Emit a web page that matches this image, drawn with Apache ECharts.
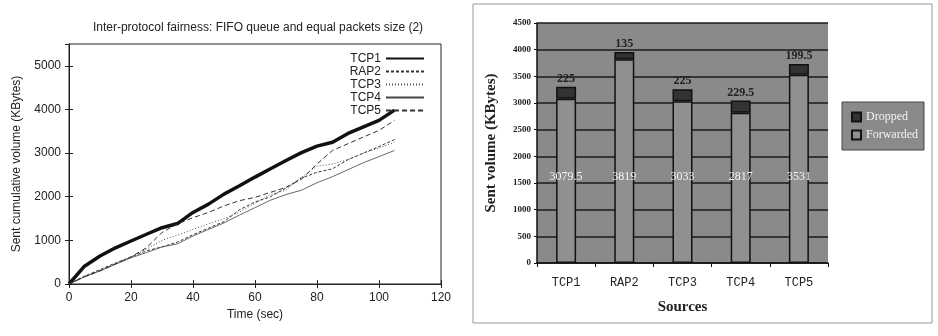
<!DOCTYPE html>
<html>
<head>
<meta charset="utf-8">
<script src="https://cdn.jsdelivr.net/npm/echarts@6/dist/echarts.min.js"></script>
<style>
	html,body{margin:0;padding:0;background:#fff;}
	#chart1{width:938px;height:336px;}
</style>
</head>
<body>
<div id="chart1"></div>
<script>
// left chart: cumulative volume over time
var times=[0,5,10,15,20,25,30,35,40,45,50,55,60,65,70,75,80,85,90,95,100,105];
var tcp1=[0,408,640,830,985,1140,1290,1385,1640,1830,2060,2250,2450,2640,2830,3010,3160,3250,3450,3600,3750,3985];
var rap2=[0,180,330,480,620,760,850,960,1130,1280,1430,1700,1880,2000,2200,2430,2560,2640,2850,3000,3150,3310];
var tcp3=[0,170,320,470,620,800,1000,1120,1250,1380,1500,1650,1850,2050,2150,2450,2700,2750,2850,3000,3120,3250];
var tcp4=[0,160,300,450,600,720,850,920,1100,1250,1400,1580,1750,1920,2050,2150,2320,2460,2620,2780,2920,3060];
var tcp5=[0,170,300,460,620,830,1180,1380,1520,1640,1790,1910,1985,2100,2215,2400,2750,3060,3215,3370,3520,3750];

// right chart: sent volume per source
var sources=['TCP1','RAP2','TCP3','TCP4','TCP5'];
var forwarded=[3079.5,3819,3033,2817,3531];
var dropped=[225,135,225,229.5,199.5];

drawChart();

function pairs(vals){
	var out=[];
	for(var i=0;i<times.length;i++){
		out.push([times[i],vals[i]]);
	}
	return out;
}

function lineSerie(name,vals,color,width,type){
	return {
		name:name,
		type:'line',
		xAxisIndex:0,
		yAxisIndex:0,
		data:pairs(vals),
		symbol:'none',
		showSymbol:false,
		animation:false,
		itemStyle:{color:color},
		lineStyle:{color:color,width:width,type:type}
	};
}

function plain(v){
	return String(v);
}

function drawChart(){
	var myChart=echarts.init(document.getElementById('chart1'));
	var sans='Liberation Sans';
	var serif='Liberation Serif';
	var noDot={opacity:0};
	var option={
		animation:false,
		title:{
			text:'Inter-protocol fairness: FIFO queue and equal packets size (2)',
			left:253,
			top:17,
			textAlign:'center',
			textStyle:{fontFamily:sans,fontSize:12,fontWeight:'normal',color:'#222'}
		},
		legend:[
			{
				data:[
					{name:'TCP1',itemStyle:noDot},
					{name:'RAP2',itemStyle:noDot},
					{name:'TCP3',itemStyle:noDot},
					{name:'TCP4',itemStyle:noDot},
					{name:'TCP5',itemStyle:noDot}
				],
				orient:'vertical',
				right:508,
				top:47,
				align:'right',
				itemGap:0,
				itemWidth:38,
				itemHeight:9,
				textStyle:{fontFamily:sans,fontSize:12,color:'#222',lineHeight:13}
			},
			{
				data:['Dropped','Forwarded'],
				orient:'vertical',
				left:842,
				top:102,
				icon:'rect',
				itemWidth:9,
				itemHeight:9,
				itemGap:6,
				padding:[9,6,9,9],
				backgroundColor:'#8a8a8a',
				borderColor:'#444',
				borderWidth:1,
				textStyle:{fontFamily:serif,fontSize:12,color:'#f2f2f2'}
			}
		],
		grid:[
			{left:69,right:497,top:44,bottom:52,show:true,borderColor:'#222',borderWidth:1},
			{left:537,right:110,top:23,bottom:73,show:true,backgroundColor:'#8a8a8a',borderWidth:0}
		],
		graphic:[
			{
				type:'rect',
				shape:{x:473,y:4,width:459,height:319},
				style:{fill:'none',stroke:'#999',lineWidth:1},
				z:-1
			}
		],
		xAxis:[
			{
				gridIndex:0,
				type:'value',
				min:0,max:120,interval:20,
				name:'Time (sec)',
				nameLocation:'middle',
				nameGap:25,
				nameTextStyle:{fontFamily:sans,fontSize:12,color:'#222'},
				axisLine:{lineStyle:{color:'#222'}},
				axisTick:{inside:true,length:4,lineStyle:{color:'#222'}},
				axisLabel:{fontFamily:sans,fontSize:12,color:'#222',margin:8,formatter:plain},
				splitLine:{show:false}
			},
			{
				gridIndex:0,
				type:'value',
				position:'top',
				min:0,max:120,interval:20,
				axisLine:{lineStyle:{color:'#222'}},
				axisTick:{inside:true,length:4,lineStyle:{color:'#222'}},
				axisLabel:{show:false},
				splitLine:{show:false}
			},
			{
				gridIndex:1,
				type:'category',
				data:sources,
				name:'Sources',
				nameLocation:'middle',
				nameGap:37,
				nameTextStyle:{fontFamily:serif,fontSize:15,fontWeight:'bold',color:'#222'},
				axisLine:{lineStyle:{color:'#111',width:1.5}},
				axisTick:{show:true,length:4,lineStyle:{color:'#111'}},
				axisLabel:{fontFamily:'Liberation Mono',fontSize:12,color:'#222',margin:14},
				splitLine:{show:false}
			}
		],
		yAxis:[
			{
				gridIndex:0,
				type:'value',
				min:0,max:5500,interval:1000,
				name:'Sent cumulative volume (KBytes)',
				nameLocation:'middle',
				nameGap:46,
				nameTextStyle:{fontFamily:sans,fontSize:12,color:'#222'},
				axisLine:{lineStyle:{color:'#222'}},
				axisTick:{inside:true,length:4,lineStyle:{color:'#222'}},
				axisLabel:{fontFamily:sans,fontSize:12,color:'#222',margin:8,showMaxLabel:false,formatter:plain},
				splitLine:{show:false}
			},
			{
				gridIndex:0,
				type:'value',
				position:'right',
				min:0,max:5500,interval:1000,
				axisLine:{lineStyle:{color:'#222'}},
				axisTick:{inside:true,length:4,lineStyle:{color:'#222'}},
				axisLabel:{show:false},
				splitLine:{show:false}
			},
			{
				gridIndex:1,
				type:'value',
				min:0,max:4500,interval:500,
				name:'Sent volume (KBytes)',
				nameLocation:'middle',
				nameGap:38,
				nameTextStyle:{fontFamily:serif,fontSize:15,fontWeight:'bold',color:'#222'},
				axisLine:{show:true,lineStyle:{color:'#111',width:1.5}},
				axisTick:{show:true,length:3,lineStyle:{color:'#111'}},
				axisLabel:{fontFamily:serif,fontSize:9,fontWeight:'bold',color:'#222',margin:6,formatter:plain},
				splitLine:{show:true,lineStyle:{color:'#1a1a1a',width:1.5}}
			}
		],
		series:[
			lineSerie('TCP1',tcp1,'#111',3.5,'solid'),
			lineSerie('RAP2',rap2,'#333',1,[3,2]),
			lineSerie('TCP3',tcp3,'#555',1,[1,2]),
			lineSerie('TCP4',tcp4,'#444',0.8,'solid'),
			lineSerie('TCP5',tcp5,'#333',1,[5,3]),
			{
				name:'Forwarded',
				type:'bar',
				xAxisIndex:2,
				yAxisIndex:2,
				stack:'total',
				barWidth:20,
				itemStyle:{color:'#909090',borderColor:'#111',borderWidth:1.5},
				label:{
					show:true,
					position:'insideBottom',
					distance:80,
					color:'#f4f4f4',
					fontFamily:serif,
					fontSize:12
				},
				data:forwarded
			},
			{
				name:'Dropped',
				type:'bar',
				xAxisIndex:2,
				yAxisIndex:2,
				stack:'total',
				barWidth:20,
				itemStyle:{color:'#333',borderColor:'#111',borderWidth:1.5},
				label:{
					show:true,
					position:'top',
					distance:2,
					color:'#222',
					fontFamily:serif,
					fontWeight:'bold',
					fontSize:12
				},
				data:dropped
			}
		]
	};
	myChart.setOption(option);
	window.addEventListener("resize",function() {
		myChart.resize();
	})
}
</script>
</body>
</html>
